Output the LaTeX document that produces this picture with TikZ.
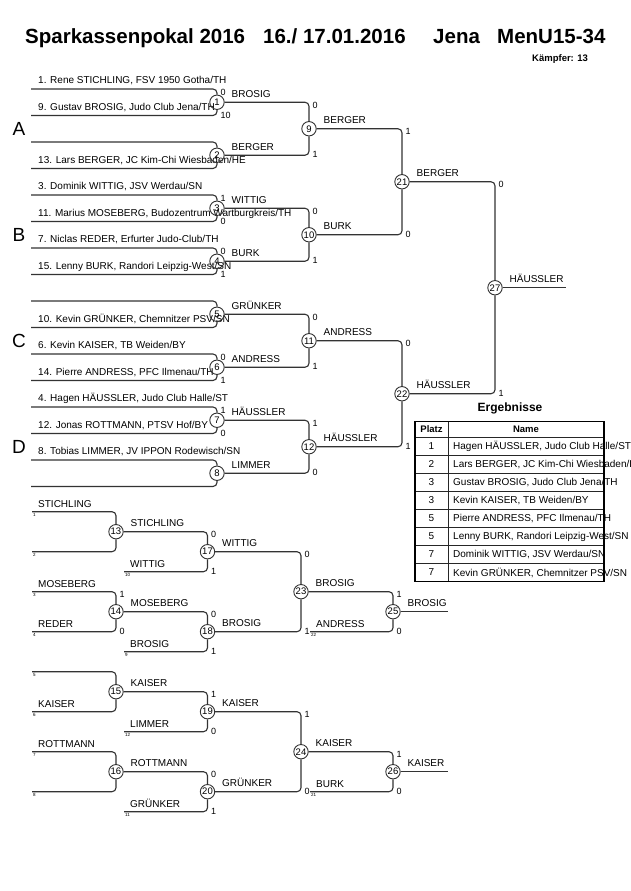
\documentclass[tikz,border=0pt]{standalone}
\usepackage{fontspec}
\setmainfont{Liberation Sans}
\begin{document}
\begin{tikzpicture}[x=1pt,y=-1pt,
  ln/.style={line width=1.1pt,draw=black!80,rounded corners=4pt},
  nd/.style={circle,draw=black!80,line width=0.9pt,minimum size=14.4pt,inner sep=0pt,font=\fontsize{9.5}{10}\selectfont},
  nm/.style={anchor=base west,inner sep=0pt,font=\fontsize{10}{12}\selectfont},
  wl/.style={anchor=base west,inner sep=0pt,font=\fontsize{10}{12}\selectfont},
  sc/.style={anchor=west,inner sep=0pt,font=\fontsize{9}{10}\selectfont},
  tnum/.style={anchor=north west,inner sep=0pt,font=\fontsize{4.5}{5}\selectfont},
  grp/.style={inner sep=0pt,font=\fontsize{19}{20}\selectfont},
  ttl/.style={anchor=base west,inner sep=0pt,font=\fontsize{20.5}{22}\selectfont\bfseries},
  tb/.style={inner sep=0pt,font=\fontsize{10}{12}\selectfont},
  tbh/.style={inner sep=0pt,font=\fontsize{9.5}{11}\selectfont\bfseries},
]
\useasboundingbox[fill=white] (0,0) rectangle (630,891);

% ---------- title ----------
\node[ttl] (title1) at (25,43.5) {Sparkassenpokal 2016};
\node[ttl] (title2) at (263,43.5) {16./ 17.01.2016};
\node[ttl] (title3) at (433,43.5) {Jena};
\node[ttl] (title4) at (497,43.5) {MenU15-34};
\node[anchor=base west,inner sep=0pt,font=\fontsize{9.5}{11}\selectfont\bfseries] (kaempfer) at (532,61.7) {Kämpfer: 13};

% ---------- group letters ----------
\node[grp] (gA) at (19,128.75) {A};
\node[grp] (gB) at (19,234.75) {B};
\node[grp] (gC) at (19,340.75) {C};
\node[grp] (gD) at (19,446.75) {D};

% ---------- entry names ----------
\node[nm] (t1)  at (38,83.5)  {1. Rene STICHLING, FSV 1950 Gotha/TH};
\node[nm] (t2)  at (38,110)   {9. Gustav BROSIG, Judo Club Jena/TH};
\node[nm] (t4)  at (38,163)   {13. Lars BERGER, JC Kim-Chi Wiesbaden/HE};
\node[nm] (t5)  at (38,189.5) {3. Dominik WITTIG, JSV Werdau/SN};
\node[nm] (t6)  at (38,216)   {11. Marius MOSEBERG, Budozentrum Wartburgkreis/TH};
\node[nm] (t7)  at (38,242.5) {7. Niclas REDER, Erfurter Judo-Club/TH};
\node[nm] (t8)  at (38,269)   {15. Lenny BURK, Randori Leipzig-West/SN};
\node[nm] (t10) at (38,322)   {10. Kevin GRÜNKER, Chemnitzer PSV/SN};
\node[nm] (t11) at (38,348.5) {6. Kevin KAISER, TB Weiden/BY};
\node[nm] (t12) at (38,375)   {14. Pierre ANDRESS, PFC Ilmenau/TH};
\node[nm] (t13) at (38,401.5) {4. Hagen HÄUSSLER, Judo Club Halle/ST};
\node[nm] (t14) at (38,428)   {12. Jonas ROTTMANN, PTSV Hof/BY};
\node[nm] (t15) at (38,454.5) {8. Tobias LIMMER, JV IPPON Rodewisch/SN};

% ---------- main bracket nodes ----------
\foreach \n/\x/\y in {1/217/102.25, 2/217/155.25, 3/217/208.25, 4/217/261.25,
  5/217/314.25, 6/217/367.25, 7/217/420.25, 8/217/473.25,
  9/309/128.75, 10/309/234.75, 11/309/340.75, 12/309/446.75,
  21/402/181.75, 22/402/393.75, 27/495/287.75}
  \node[nd] (n\n) at (\x,\y) {\n};

% ---------- repechage nodes ----------
\foreach \n/\x/\y in {13/116/531.7, 14/116/611.7, 15/116/691.7, 16/116/771.7,
  17/207.5/551.7, 18/207.5/631.7, 19/207.5/711.7, 20/207.5/791.7,
  23/301/591.7, 24/301/751.7, 25/393/611.7, 26/393/771.7}
  \node[nd] (n\n) at (\x,\y) {\n};

% ---------- main entry lines ----------
\foreach \e/\y/\n in {1/89/1, 2/115.5/1, 3/142/2, 4/168.5/2, 5/195/3, 6/221.5/3,
  7/248/4, 8/274.5/4, 9/301/5, 10/327.5/5, 11/354/6, 12/380.5/6,
  13/407/7, 14/433.5/7, 15/460/8, 16/486.5/8}
  \draw[ln] (31,\y) coordinate (e\e) -| (n\n);

% ---------- main connectors ----------
\foreach \a/\b in {1/9, 2/9, 3/10, 4/10, 5/11, 6/11, 7/12, 8/12,
  9/21, 10/21, 11/22, 12/22, 21/27, 22/27}
  \draw[ln] (n\a) -| (n\b);
\coordinate (fin) at (566,287.75);
\draw[ln] (n27) -- (fin);

% ---------- main winner labels ----------
\foreach \n/\w in {1/BROSIG, 2/BERGER, 3/WITTIG, 4/BURK, 5/GRÜNKER, 6/ANDRESS,
  7/HÄUSSLER, 8/LIMMER, 9/BERGER, 10/BURK, 11/ANDRESS, 12/HÄUSSLER,
  21/BERGER, 22/HÄUSSLER, 27/HÄUSSLER}
  \node[wl] (w\n) at ([xshift=14.5pt,yshift=5pt]n\n.center) {\w};

% ---------- main scores ----------
\foreach \m/\x/\y/\v in {s1a/217/89/0, s3a/217/195/1, s4a/217/248/0, s6a/217/354/0, s7a/217/407/1,
  s9a/309/102.25/0, s10a/309/208.25/0, s11a/309/314.25/0, s12a/309/420.25/1,
  s21a/402/128.75/1, s22a/402/340.75/0, s27a/495/181.75/0}
  \node[sc] (\m) at (\x+3.5,\y+3) {\v};
\foreach \m/\x/\y/\v in {s1b/217/115.5/10, s3b/217/221.5/0, s4b/217/274.5/1, s6b/217/380.5/1, s7b/217/433.5/0,
  s9b/309/155.25/1, s10b/309/261.25/1, s11b/309/367.25/1, s12b/309/473.25/0,
  s21b/402/234.75/0, s22b/402/446.75/1, s27b/495/393.75/1}
  \node[sc] (\m) at (\x+3.5,\y-0.5) {\v};

% ---------- repechage entries ----------
\foreach \e/\x/\y/\n/\w/\k in {
  r0/32/511.7/13/STICHLING/1, r2/32/551.7/13//2, r3/124/571.7/17/WITTIG/10,
  r4/32/591.7/14/MOSEBERG/3, r6/32/631.7/14/REDER/4, r7/124/651.7/18/BROSIG/9,
  r6b/310/631.7/25/ANDRESS/22,
  r8/32/671.7/15//5, r10/32/711.7/15/KAISER/6, r11/124/731.7/19/LIMMER/12,
  r12/32/751.7/16/ROTTMANN/7, r14/32/791.7/16//8, r15/124/811.7/20/GRÜNKER/11,
  r14b/310/791.7/26/BURK/21}
{
  \draw[ln] (\x,\y) coordinate (c\e) -| (n\n);
  \node[wl] (l\e) at (\x+6,\y-4.5) {\w};
  \node[tnum] (k\e) at (\x+1,\y+1.5) {\k};
}

% ---------- repechage connectors ----------
\foreach \a/\b in {13/17, 14/18, 17/23, 18/23, 23/25, 15/19, 16/20, 19/24, 20/24, 24/26}
  \draw[ln] (n\a) -| (n\b);
\coordinate (fin25) at (448,611.7);
\coordinate (fin26) at (448,771.7);
\draw[ln] (n25) -- (fin25);
\draw[ln] (n26) -- (fin26);

% ---------- repechage winner labels ----------
\foreach \n/\w in {13/STICHLING, 14/MOSEBERG, 15/KAISER, 16/ROTTMANN,
  17/WITTIG, 18/BROSIG, 19/KAISER, 20/GRÜNKER, 23/BROSIG, 24/KAISER, 25/BROSIG, 26/KAISER}
  \node[wl] (w\n) at ([xshift=14.5pt,yshift=5pt]n\n.center) {\w};

% ---------- repechage scores ----------
\foreach \m/\x/\y/\v in {s14a/116/591.7/1, s17a/207.5/531.7/0, s18a/207.5/611.7/0,
  s23a/301/551.7/0, s25a/393/591.7/1, s19a/207.5/691.7/1, s20a/207.5/771.7/0,
  s24a/301/711.7/1, s26a/393/751.7/1}
  \node[sc] (\m) at (\x+3.5,\y+3) {\v};
\foreach \m/\x/\y/\v in {s14b/116/631.7/0, s17b/207.5/571.7/1, s18b/207.5/651.7/1,
  s23b/301/631.7/1, s25b/393/631.7/0, s19b/207.5/731.7/0, s20b/207.5/811.7/1,
  s24b/301/791.7/0, s26b/393/791.7/0}
  \node[sc] (\m) at (\x+3.5,\y-0.5) {\v};

% ---------- results table ----------
\node[anchor=base,inner sep=0pt,font=\fontsize{12}{14}\selectfont\bfseries] (erg) at (510,411.5) {Ergebnisse};
\foreach \k in {0,...,7}
  \draw[line width=0.8pt,black!85] (415,437.5+18*\k) -- (604,437.5+18*\k);
\draw[line width=0.8pt,black!85] (448,421.5) -- (448,581.5);
\draw[line width=1.8pt] (415,421.5) rectangle (604,581.5);
\node[tbh] (hp) at (431.5,429.5) {Platz};
\node[tbh] (hn) at (526,429.5) {Name};
\node[tb] (p1) at (431.5,446.5) {1};
\node[tb] (p2) at (431.5,464.5) {2};
\node[tb] (p3) at (431.5,482.5) {3};
\node[tb] (p4) at (431.5,500.5) {3};
\node[tb] (p5) at (431.5,518.5) {5};
\node[tb] (p6) at (431.5,536.5) {5};
\node[tb] (p7) at (431.5,554.5) {7};
\node[tb] (p8) at (431.5,572.5) {7};
\node[tb,anchor=west] (q1) at (453,446.5) {Hagen HÄUSSLER, Judo Club Halle/ST};
\node[tb,anchor=west] (q2) at (453,464.5) {Lars BERGER, JC Kim-Chi Wiesbaden/HE};
\node[tb,anchor=west] (q3) at (453,482.5) {Gustav BROSIG, Judo Club Jena/TH};
\node[tb,anchor=west] (q4) at (453,500.5) {Kevin KAISER, TB Weiden/BY};
\node[tb,anchor=west] (q5) at (453,518.5) {Pierre ANDRESS, PFC Ilmenau/TH};
\node[tb,anchor=west] (q6) at (453,536.5) {Lenny BURK, Randori Leipzig-West/SN};
\node[tb,anchor=west] (q7) at (453,554.5) {Dominik WITTIG, JSV Werdau/SN};
\node[tb,anchor=west] (q8) at (453,572.5) {Kevin GRÜNKER, Chemnitzer PSV/SN};
\end{tikzpicture}
\end{document}
